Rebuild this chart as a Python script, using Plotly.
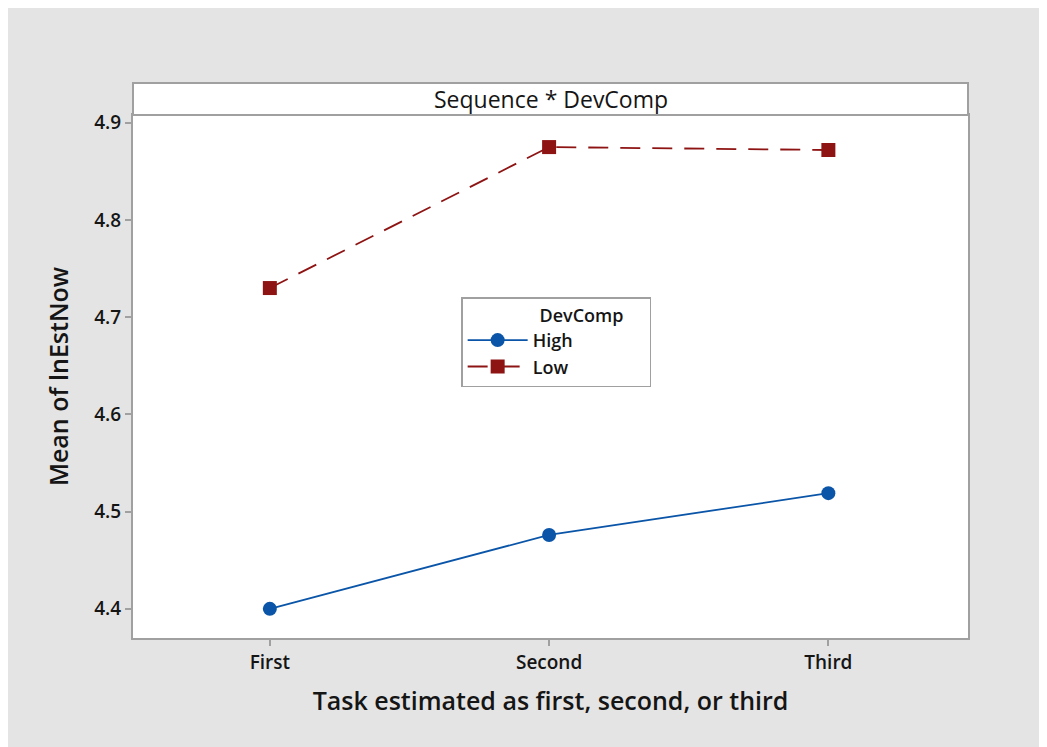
import plotly.graph_objects as go

categories = ["First", "Second", "Third"]
high_values = [4.400, 4.476, 4.519]
low_values = [4.730, 4.875, 4.872]
y_ticks = [4.4, 4.5, 4.6, 4.7, 4.8, 4.9]

BLUE = "#0a55a8"
RED = "#8e1414"
FONT = "Open Sans"
TXT = "#151515"

fig = go.Figure()
fig.add_trace(go.Scatter(
    x=categories, y=high_values, name="High", mode="lines+markers",
    line=dict(color=BLUE, width=1.8),
    marker=dict(symbol="circle", size=14, color=BLUE),
))
fig.add_trace(go.Scatter(
    x=categories, y=low_values, name="Low", mode="lines+markers",
    line=dict(color=RED, width=1.8, dash="20px,12px"),
    marker=dict(symbol="square", size=14, color=RED),
))

nb = "&nbsp;"
fig.update_layout(
    width=1047, height=747,
    margin=dict(l=125, r=87, t=107, b=117),
    paper_bgcolor="#e4e4e4", plot_bgcolor="white",
    font=dict(family=FONT, color=TXT),
    showlegend=True,
    legend=dict(
        x=0.393, y=0.652, xanchor="left", yanchor="top",
        bgcolor="white", bordercolor="#a0a0a0", borderwidth=1.5,
        font=dict(size=18, family=FONT, color=TXT, weight=600),
        title=dict(text=nb * 16 + "DevComp" + nb * 5,
                   font=dict(size=18, family=FONT, color=TXT, weight=600), side="top"),
        itemwidth=60,
    ),
)

fig.update_xaxes(
    type="category", range=[-0.49, 2.50],
    showline=True, linecolor="#a0a0a0", linewidth=2, mirror=True,
    ticks="outside", ticklen=6, tickcolor="#a0a0a0", tickwidth=1.5,
    showgrid=False, zeroline=False,
    tickfont=dict(size=19, family=FONT, color=TXT, weight=600),
    title=dict(text="Task estimated as first, second, or third",
               font=dict(size=25, family=FONT, color=TXT, weight=600), standoff=19),
)
fig.update_yaxes(
    range=[4.370, 4.908], tickvals=y_ticks, ticktext=[f"{v:.1f}" for v in y_ticks],
    showline=True, linecolor="#a0a0a0", linewidth=2, mirror=True,
    ticks="outside", ticklen=6, tickcolor="#a0a0a0", tickwidth=1.5,
    showgrid=False, zeroline=False,
    tickfont=dict(size=19, family=FONT, color=TXT, weight=600),
    title=dict(text="Mean of lnEstNow",
               font=dict(size=25, family=FONT, color=TXT, weight=600), standoff=19),
)

# header strip
fig.add_shape(type="rect", xref="paper", yref="paper", x0=0, x1=1, y0=1.0, y1=1.0612,
              fillcolor="white", line=dict(color="#a0a0a0", width=2), layer="above")
fig.add_annotation(text="Sequence * DevComp", xref="paper", yref="paper",
                   x=0.5, y=1.0306, showarrow=False, xanchor="center", yanchor="middle",
                   font=dict(size=23, family=FONT, color=TXT))

fig.write_html("out.html")
